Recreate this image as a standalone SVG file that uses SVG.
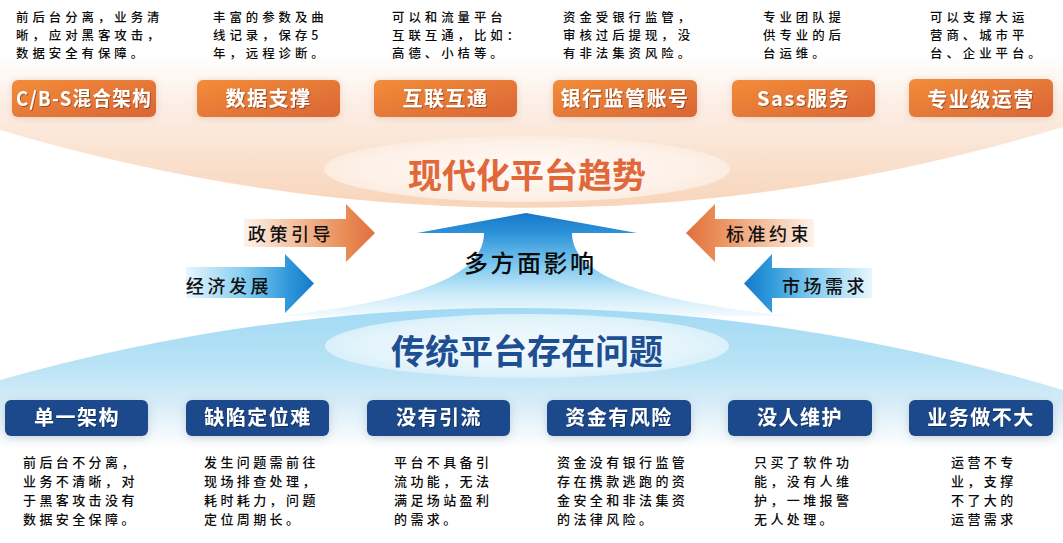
<svg xmlns="http://www.w3.org/2000/svg" width="1063" height="543" viewBox="0 0 1063 543">
<defs>
<style>
.desc{font-family:"Noto Sans CJK SC","Noto Sans",sans-serif;font-size:13px;font-weight:500;letter-spacing:3.4px;fill:#0a0a0a}
.dtop{font-size:12.4px;letter-spacing:4px}
.tb{font-family:"Noto Sans CJK SC","Noto Sans",sans-serif;font-size:20px;font-weight:bold;fill:#fff;text-anchor:middle;letter-spacing:1.5px}
.lbl{font-family:"Noto Sans CJK SC","Noto Sans",sans-serif;font-size:18px;font-weight:500;letter-spacing:3.5px;fill:#111}
.big{font-family:"Noto Sans CJK SC","Noto Sans",sans-serif;font-size:34px;font-weight:bold;text-anchor:middle}
.obox{fill:url(#gOrange)}
.bbox{fill:#1c4a8b}
</style>
<linearGradient id="gTop" x1="0" y1="0" x2="0" y2="210" gradientUnits="userSpaceOnUse">
<stop offset="0" stop-color="#ffffff"/><stop offset="0.26" stop-color="#ffffff"/><stop offset="0.52" stop-color="#fcede3"/><stop offset="1" stop-color="#f8d4b9"/>
</linearGradient>
<linearGradient id="gBot" x1="0" y1="305" x2="0" y2="448" gradientUnits="userSpaceOnUse">
<stop offset="0" stop-color="#a1d9f3"/><stop offset="0.38" stop-color="#b6e2f6"/><stop offset="0.68" stop-color="#d6ecf8"/><stop offset="1" stop-color="#ffffff"/>
</linearGradient>
<radialGradient id="gTopEl" cx="0.5" cy="0.5" r="0.5">
<stop offset="0" stop-color="#fffaf6"/><stop offset="0.8" stop-color="#fdf1e8"/><stop offset="1" stop-color="#fcece0"/>
</radialGradient>
<radialGradient id="gBotEl" cx="0.5" cy="0.5" r="0.5">
<stop offset="0" stop-color="#f2fafe"/><stop offset="0.8" stop-color="#e4f4fb"/><stop offset="1" stop-color="#d9f0fa"/>
</radialGradient>
<linearGradient id="gOrange" x1="0" y1="0" x2="1" y2="1">
<stop offset="0" stop-color="#f28d3a"/><stop offset="1" stop-color="#da6535"/>
</linearGradient>
<linearGradient id="gUp" x1="0" y1="213" x2="0" y2="316" gradientUnits="userSpaceOnUse">
<stop offset="0" stop-color="#1878c9"/><stop offset="0.2" stop-color="#2d93d9"/><stop offset="0.5" stop-color="#7cc7ee"/><stop offset="0.78" stop-color="#c9eaf9"/><stop offset="1" stop-color="#f3fafe"/>
</linearGradient>
<linearGradient id="gOR" x1="244" y1="0" x2="375" y2="0" gradientUnits="userSpaceOnUse">
<stop offset="0" stop-color="#fdf2ea"/><stop offset="0.45" stop-color="#f3b892"/><stop offset="0.78" stop-color="#e98b56"/><stop offset="1" stop-color="#e0703e"/>
</linearGradient>
<linearGradient id="gOL" x1="814" y1="0" x2="686" y2="0" gradientUnits="userSpaceOnUse">
<stop offset="0" stop-color="#fdf2ea"/><stop offset="0.45" stop-color="#f3b892"/><stop offset="0.78" stop-color="#e98b56"/><stop offset="1" stop-color="#e0703e"/>
</linearGradient>
<linearGradient id="gBR" x1="186" y1="0" x2="314" y2="0" gradientUnits="userSpaceOnUse">
<stop offset="0" stop-color="#e8f6fd"/><stop offset="0.45" stop-color="#86cdf0"/><stop offset="0.8" stop-color="#2f98da"/><stop offset="1" stop-color="#1479c8"/>
</linearGradient>
<linearGradient id="gBL" x1="872" y1="0" x2="744" y2="0" gradientUnits="userSpaceOnUse">
<stop offset="0" stop-color="#e8f6fd"/><stop offset="0.45" stop-color="#86cdf0"/><stop offset="0.8" stop-color="#2f98da"/><stop offset="1" stop-color="#1479c8"/>
</linearGradient>
<filter id="shO" x="-20%" y="-40%" width="140%" height="180%">
<feDropShadow dx="0" dy="1" stdDeviation="3" flood-color="#9a5a38" flood-opacity="0.22"/>
</filter>
<filter id="shB" x="-20%" y="-40%" width="140%" height="180%">
<feDropShadow dx="0" dy="2" stdDeviation="4" flood-color="#5a6e80" flood-opacity="0.28"/>
</filter>
<filter id="tsh" x="-10%" y="-20%" width="120%" height="140%">
<feDropShadow dx="1" dy="1" stdDeviation="0.6" flood-color="#000" flood-opacity="0.35"/>
</filter>
</defs>

<rect width="1063" height="543" fill="#ffffff"/>
<g id="background">
<path d="M0,0 H1063 V127 Q531,287 0,130 Z" fill="url(#gTop)"/>
<ellipse cx="527" cy="169" rx="203" ry="33" fill="url(#gTopEl)"/>
<text class="big" x="527" y="188" fill="#e0683a">现代化平台趋势</text>
</g>

<g id="connectors">
<path id="up-arrow" d="M526,213 L637,233 L572,233 C572,275 640,300 790,316 L280,316 C420,300 484,275 484,233 L417,233 Z" fill="url(#gUp)"/>
<path d="M244,219 H346 V204 L375,233 L346,262 V247 H244 Z" fill="url(#gOR)"/>
<path d="M186,267 H285 V254 L314,283.5 L285,313 V298 H186 Z" fill="url(#gBR)"/>
<path d="M814,219 H715 V204 L686,233 L715,262 V247 H814 Z" fill="url(#gOL)"/>
<path d="M872,268 H772 V254 L744,283.5 L772,313 V298 H872 Z" fill="url(#gBL)"/>
<text class="lbl" x="248" y="241">政策引导</text>
<text class="lbl" x="186" y="293">经济发展</text>
<text class="lbl" x="726" y="241">标准约束</text>
<text class="lbl" x="782" y="293">市场需求</text>
<text x="464" y="272" font-family="Noto Sans CJK SC, sans-serif" font-size="24" font-weight="500" letter-spacing="2.5" fill="#0a0a0a">多方面影响</text>
</g>

<g id="bottom-band">
<path d="M0,380 Q531,231 1063,390 V543 H0 Z" fill="url(#gBot)"/>
<ellipse cx="527" cy="346" rx="202" ry="32" fill="url(#gBotEl)"/>
<text class="big" x="527" y="364" fill="#1d4f92">传统平台存在问题</text>
</g>

<g id="top-1">
<rect class="obox" x="12" y="80" width="144" height="37" rx="6" filter="url(#shO)"/>
<text class="tb" x="84" y="106" letter-spacing="0" textLength="136" lengthAdjust="spacingAndGlyphs" filter="url(#tsh)">C/B-S混合架构</text>
<text class="desc dtop" x="16" y="21.5"><tspan x="16">前后台分离，业务清</tspan><tspan x="16" dy="18">晰，应对黑客攻击，</tspan><tspan x="16" dy="18">数据安全有保障。</tspan></text>
</g>
<g id="top-2">
<rect class="obox" x="197" y="80" width="143" height="37" rx="6" filter="url(#shO)"/>
<text class="tb" x="268.5" y="106" filter="url(#tsh)">数据支撑</text>
<text class="desc dtop" x="213" y="21.5"><tspan x="213">丰富的参数及曲</tspan><tspan x="213" dy="18">线记录，保存5</tspan><tspan x="213" dy="18">年，远程诊断。</tspan></text>
</g>
<g id="top-3">
<rect class="obox" x="374" y="80" width="143" height="37" rx="6" filter="url(#shO)"/>
<text class="tb" x="445.5" y="106" filter="url(#tsh)">互联互通</text>
<text class="desc dtop" x="392" y="21.5"><tspan x="392">可以和流量平台</tspan><tspan x="392" dy="18">互联互通，比如：</tspan><tspan x="392" dy="18">高德、小桔等。</tspan></text>
</g>
<g id="top-4">
<rect class="obox" x="553" y="80" width="144" height="37" rx="6" filter="url(#shO)"/>
<text class="tb" x="625" y="106" letter-spacing="0.5" filter="url(#tsh)">银行监管账号</text>
<text class="desc dtop" x="563" y="21.5"><tspan x="563">资金受银行监管，</tspan><tspan x="563" dy="18">审核过后提现，没</tspan><tspan x="563" dy="18">有非法集资风险。</tspan></text>
</g>
<g id="top-5">
<rect class="obox" x="732" y="80" width="143" height="37" rx="6" filter="url(#shO)"/>
<text class="tb" x="803.5" y="106" letter-spacing="0" filter="url(#tsh)">Sass服务</text>
<text class="desc dtop" x="763" y="21.5"><tspan x="763">专业团队提</tspan><tspan x="763" dy="18">供专业的后</tspan><tspan x="763" dy="18">台运维。</tspan></text>
</g>
<g id="top-6">
<rect class="obox" x="909" y="79" width="144" height="38" rx="6" filter="url(#shO)"/>
<text class="tb" x="981" y="107" font-size="22" letter-spacing="1" filter="url(#tsh)">专业级运营</text>
<text class="desc dtop" x="930" y="21.5"><tspan x="930">可以支撑大运</tspan><tspan x="930" dy="18">营商、城市平</tspan><tspan x="930" dy="18">台、企业平台。</tspan></text>
</g>

<g id="bottom-1">
<rect class="bbox" x="5" y="400" width="143" height="36" rx="6" filter="url(#shB)"/>
<text class="tb" x="77" y="425" filter="url(#tsh)">单一架构</text>
<text class="desc" x="23" y="467"><tspan x="23">前后台不分离，</tspan><tspan x="23" dy="19">业务不清晰，对</tspan><tspan x="23" dy="19">于黑客攻击没有</tspan><tspan x="23" dy="19">数据安全保障。</tspan></text>
</g>
<g id="bottom-2">
<rect class="bbox" x="186" y="400" width="143" height="36" rx="6" filter="url(#shB)"/>
<text class="tb" x="258" y="425" filter="url(#tsh)">缺陷定位难</text>
<text class="desc" x="204" y="467"><tspan x="204">发生问题需前往</tspan><tspan x="204" dy="19">现场排查处理，</tspan><tspan x="204" dy="19">耗时耗力，问题</tspan><tspan x="204" dy="19">定位周期长。</tspan></text>
</g>
<g id="bottom-3">
<rect class="bbox" x="367" y="400" width="143" height="36" rx="6" filter="url(#shB)"/>
<text class="tb" x="439" y="425" filter="url(#tsh)">没有引流</text>
<text class="desc" x="394" y="467"><tspan x="394">平台不具备引</tspan><tspan x="394" dy="19">流功能，无法</tspan><tspan x="394" dy="19">满足场站盈利</tspan><tspan x="394" dy="19">的需求。</tspan></text>
</g>
<g id="bottom-4">
<rect class="bbox" x="547" y="400" width="144" height="36" rx="6" filter="url(#shB)"/>
<text class="tb" x="619" y="425" filter="url(#tsh)">资金有风险</text>
<text class="desc" x="557" y="467"><tspan x="557">资金没有银行监管</tspan><tspan x="557" dy="19">存在携款逃跑的资</tspan><tspan x="557" dy="19">金安全和非法集资</tspan><tspan x="557" dy="19">的法律风险。</tspan></text>
</g>
<g id="bottom-5">
<rect class="bbox" x="728" y="400" width="144" height="36" rx="6" filter="url(#shB)"/>
<text class="tb" x="800" y="425" filter="url(#tsh)">没人维护</text>
<text class="desc" x="754" y="467"><tspan x="754">只买了软件功</tspan><tspan x="754" dy="19">能，没有人维</tspan><tspan x="754" dy="19">护，一堆报警</tspan><tspan x="754" dy="19">无人处理。</tspan></text>
</g>
<g id="bottom-6">
<rect class="bbox" x="909" y="400" width="144" height="36" rx="6" filter="url(#shB)"/>
<text class="tb" x="981" y="425" filter="url(#tsh)">业务做不大</text>
<text class="desc" x="951" y="467"><tspan x="951">运营不专</tspan><tspan x="951" dy="19">业，支撑</tspan><tspan x="951" dy="19">不了大的</tspan><tspan x="951" dy="19">运营需求</tspan></text>
</g>
</svg>
